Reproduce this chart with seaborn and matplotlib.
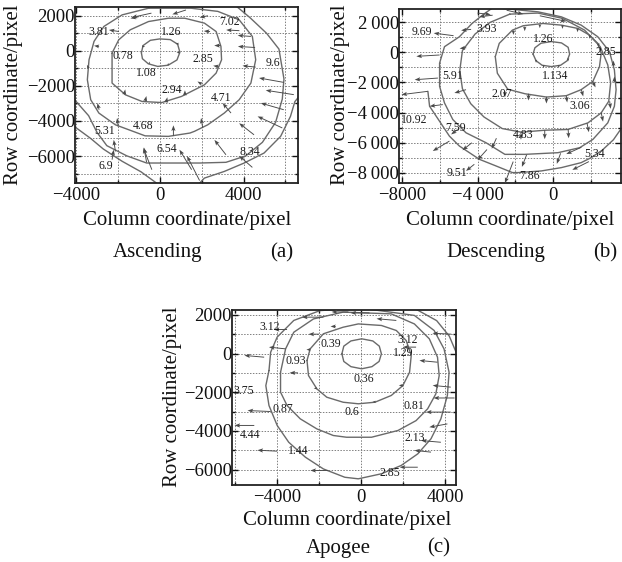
import matplotlib
matplotlib.use("Agg")
import matplotlib.pyplot as plt
import pandas as pd
import seaborn as sns
from matplotlib.ticker import MultipleLocator

sns.set_theme(style="ticks")
plt.rcParams['font.family'] = ['Liberation Serif', 'DejaVu Serif']

# ---------------- (a) Ascending ----------------
asc_lines = [
    ([-880, -800, -450, 0, 500, 850, 960, 820, 400, -100, -550, -830, -880],
     [-110, 300, 600, 680, 640, 380, -80, -520, -820, -890, -740, -450, -110]),
    ([-2280, -1960, -1410, -540, 410, 1190, 2130, 2690, 2920, 2950, 2690, 2130, 1500, 1040, 100, -850, -1640, -2280, -2280],
     [-130, 630, 1200, 1670, 1860, 1860, 1580, 1100, 250, -510, -1270, -1940, -2320, -2600, -2950, -2890, -2510, -1840, -130]),
    ([-540, -1800, -2670, -3140, -3380, -3460, -3300, -2910, -2120, -700, 410, 1440, 1660, 2290, 3080, 3790, 4350, 4580, 4420, 3790, 2770, 1500, -540],
     [2430, 2050, 1390, 540, -510, -1650, -2790, -3550, -4220, -4850, -4880, -4690, -4590, -4220, -3550, -2790, -1840, -510, 820, 1770, 2250, 2430, 2430]),
    ([-4100, -3400, -3000, -2530, -1580, -630, 1900, 3160, 4110, 4900, 5530, 5850, 5930, 5690, 5100, 4300, 3600],
     [-2750, -3700, -4650, -5410, -5990, -6400, -6400, -6360, -5990, -5220, -4080, -2750, -1610, 100, 1000, 1900, 2600]),
    ([-4100, -3300, -2700, -1800, -900, -150],
     [-4300, -5000, -5600, -6300, -6900, -7550]),
    ([1900, 2130, 3080, 4030, 4980, 5770, 6240, 6450, 6650],
     [-7550, -7260, -6880, -6400, -5830, -4880, -3740, -2900, -2600]),
]
asc_qx = [-400, 1250, 2300, -1000, -1950, 3800, 4350, 4550, 4580, 5920, 6400, 5920, 5850, 4500, 4420,
          3160, 3400, 2050, 650, -630, -380, 1520, 1900, -2120, -1990, -2900, -2280, -2900, -3400,
          -1700, -700, 300, 1200, 2400, 2900, 2800, 2000, 900, 950, 400, -500, -850]
asc_qy = [2150, 2330, 2000, 1950, 1100, 1150, 820, 190, -930, -1800, -2500, -3360, -4400, -4790, -6650,
          -5930, -3550, -4400, -4850, -6360, -6780, -6780, -7400, -5740, -4310, -3360, -6210, 250, -1000,
          -2500, -2880, -2950, -2550, 1100, 300, -900, -1900, 400, -100, -820, -740, 250]
asc_qu = [-950, -650, -400, -400, -480, -630, -630, -820, -630, -1180, -1340, -1100, -1180, -710, -630,
          -550, -400, -80, 0, -130, -400, -580, -600, -80, -50, -80, 80, -240, -80,
          50, 60, 60, 0, -300, -300, -250, -200, -150, -150, 0, 0, 150]
asc_qv = [-250, -250, -100, -100, 90, 40, 60, 60, 80, 250, 250, 380, 660, 660, 660,
          850, 570, 570, 600, 850, 1230, 1140, 1400, 660, 480, 380, 570, 40, 200,
          300, 300, 300, 300, 30, 0, 50, 150, 0, 0, 130, 130, 0]
asc_lab = ['3.81', '1.26', '7.02', '0.78', '2.85', '9.6', '1.08', '2.94', '4.71', '4.68', '5.31', '6.54', '8.34', '6.9']
asc_lab_x = [-2920, 550, 3320, -1740, 2050, 5400, -630, 550, 2920, -790, -2650, 320, 4300, -2560]
asc_lab_y = [1100, 1050, 1650, -320, -470, -720, -1270, -2220, -2700, -4270, -4560, -5600, -5790, -6550]

# ---------------- (b) Descending ----------------
desc_lines = [
    ([-1060, -960, -640, -90, 450, 800, 880, 750, 400, -90, -580, -900, -1060],
     [-120, 300, 600, 710, 620, 330, -120, -560, -860, -950, -860, -560, -120]),
    ([-3060, -2850, -2150, -1580, -530, 440, 1320, 1930, 2370, 2550, 2460, 2110, 1490, 700, -350, -1490, -2400, -2950, -3060],
     [-290, 590, 1470, 1760, 1910, 1800, 1580, 1140, 590, -70, -950, -1930, -2480, -2880, -2970, -2750, -2450, -1390, -290]),
    ([-2290, -3340, -4130, -4800, -4940, -4800, -4360, -3660, -2690, -1670, -440, 790, 1850, 2550, 2950, 3050, 2900, 2500, 1670, 500, -800, -2290],
     [2530, 1980, 1210, 110, -1210, -2420, -3410, -4290, -5060, -5300, -5170, -5120, -4680, -4020, -3250, -2040, -840, 370, 1470, 2250, 2600, 2530]),
    ([-3000, -790, 440, 1490, 2370, 2990, 3250, 3340, 3250, 2900, 2110, 1410, 260, -1490, -2550, -3550, -4610, -5310, -5750, -6010, -6010, -5750, -4960, -4300, -3700, -3200],
     [2950, 2680, 2350, 1800, 1030, 40, -1170, -2480, -3580, -4680, -5780, -6330, -6660, -6770, -6770, -6000, -5340, -4460, -3360, -2260, -720, 370, 1030, 1900, 2500, 2950]),
    ([-6630, -6540, -6190, -5490, -4960, -3900, -3020, -2150, -1850, -620, 440, 1490, 2020, 2600, 3200, 3700],
     [-2590, -3580, -4240, -5560, -6220, -7100, -7540, -7980, -7980, -7870, -7650, -7320, -6990, -6500, -5800, -4900]),
]
desc_qx = [-6010, -6100, -6630, -5840, -5490, -5050, -4170, -4340, -4610, -3200, -5270,
           -2110, -1400, 400, 1900, 1500, -3500, -3000, -4300,
           -1300, -350, 700, 1500, 2100, -2550, -440, 800, 1800, -1700, 2550, 3000, 3250, 3200,
           -900, -500, 300, 800, -2100, -1500, -700, 500, 1300, 1950, 2400, -4600,
           -700, -2460, -4000]
desc_qy = [-180, -1710, -2590, -3470, -5890, -5120, -7430, 1520, -2480, 2460, 1100,
           -7250, -6800, -6700, -7250, -6300, -6450, -5700, -6000,
           -2750, -2950, -2880, -2480, -1930, -2590, -5165, -5100, -4700, -5300, -4000, -3250, -2000, -900,
           -500, -850, -850, -400, 1450, 1700, 1850, 1800, 1580, 1140, 590, 300,
           2420, 2790, 2600]
desc_qu = [-1230, -1230, -1400, -700, -880, -350, -440, -530, -615, -700, -1050,
           -440, -250, -200, -880, -800, -500, -250, -500,
           0, 0, 50, 100, 150, 0, 0, 30, 100, 0, 100, 50, 0, 0,
           0, 0, 0, 0, 0, 0, 0, 0, 0, 0, 0, -350,
           1400, 880, 700]
desc_qv = [-90, -110, -220, -110, -660, -330, -440, -70, -220, -110, 170,
           -1430, -800, -700, -550, -450, -700, -700, -500,
           -450, -450, -450, -450, -400, -400, -600, -600, -600, -500, -600, -500, 400, 350,
           -200, -200, -200, -200, -300, -300, -250, -250, -250, -250, -250, -50,
           -370, -260, -100]
desc_lab = ['9.69', '3.93', '1.26', '2.85', '5.91', '1.134', '2.07', '3.06', '10.92', '7.59', '4.83', '5.34', '9.51', '7.86']
desc_lab_x = [-6940, -3520, -530, 2810, -5310, 90, -2730, 1410, -7380, -5190, -1580, 2200, -5100, -1230]
desc_lab_y = [1320, 1540, 880, 0, -1600, -1600, -2750, -3580, -4460, -4990, -5500, -6750, -7980, -8200]

# ---------------- (c) Apogee ----------------
apo_lines = [
    ([-910, -820, -480, 30, 560, 870, 970, 860, 520, 30, -480, -820, -910],
     [-17, 380, 650, 760, 650, 380, -17, -410, -680, -790, -680, -410, -17]),
    ([-2570, -2420, -1790, -850, -130, 970, 1680, 2150, 2390, 2310, 1990, 1440, 660, -130, -850, -1630, -2100, -2500, -2570],
     [-360, 240, 1020, 1360, 1530, 1450, 1190, 670, -100, -970, -1660, -2170, -2520, -2600, -2520, -2260, -1830, -1140, -360]),
    ([-3830, -3590, -3200, -2260, -850, 1440, 2540, 3250, 3640, 3720, 3560, 3170, 2620, 1760, 500, -690, -1320, -2100, -2890, -3520, -3830, -3830],
     [-970, 240, 1100, 1790, 2140, 2050, 1530, 760, -190, -1140, -2090, -2860, -3470, -3980, -4330, -4330, -4240, -3900, -3380, -2690, -2000, -970]),
    ([-4380, -4300, -3990, -3200, -1950, 0, 2540, 3480, 3950, 4190, 4110, 3800, 3330, 2700, 1910, 970, -130, -770, -1790, -2650, -3440, -3990, -4380, -4530, -4380],
     [-880, 70, 850, 1710, 2220, 2350, 1970, 1190, 240, -970, -2170, -3380, -4410, -5190, -5790, -6220, -6480, -6400, -5970, -5360, -4590, -3720, -2690, -1660, -880]),
    ([2600, 3600, 4200, 4550],
     [2300, 1700, 900, 0]),
]
apo_qx = [2620, 3640, 4270, 4270, 4110, 3800, 3330, 2700, 1680, 400, -600,
          -4610, -3520, -3590, -1790, -4300, -5080, -3990, -1550, -3000, -2000,
          -1200, -2400, -2100, 700, 2000, 4300, 4450]
apo_qy = [330, -450, -1740, -3030, -3640, -4590, -5100, -5880, 1710, 2100, 2150,
          -190, 1240, 240, 1880, -3000, -3720, -5050, -6050, -1000, 1000,
          1400, 200, -1800, -2500, -1650, 1000, -2300]
apo_qu = [-630, -860, -860, -1180, -860, -940, -790, -860, -940, -900, -800,
          -940, -630, -790, -1020, -1100, -940, -940, -860, -400, -500,
          -250, -200, -150, -150, -200, -900, -1000]
apo_qv = [0, 90, 90, 0, -170, 90, 90, 0, 90, 0, 0,
          90, 0, 90, 0, 50, 0, 50, 0, 0, 0,
          0, 0, 0, 0, 0, 50, 0]
apo_lab = ['3.12', '0.39', '3.12', '0.93', '1.29', '0.36', '3.75', '0.87', '0.6', '0.81', '4.44', '2.13', '1.44', '2.85']
apo_lab_x = [-4350, -1440, 2240, -3090, 2010, 130, -5600, -3720, -420, 2530, -5290, 2560, -3010, 1380]
apo_lab_y = [1380, 470, 720, -400, 30, -1310, -1950, -2850, -3030, -2690, -4190, -4360, -5050, -6170]


def draw_panel(ax, lines, qx, qy, qu, qv, labs, lx, ly, xlim, ylim, xt, xtl, yt, ytl):
    rows = []
    for i, (xs, ys) in enumerate(lines):
        for x, y in zip(xs, ys):
            rows.append((i, x, y))
    df = pd.DataFrame(rows, columns=['line', 'x', 'y'])
    sns.lineplot(data=df, x='x', y='y', units='line', estimator=None, sort=False,
                 color='#6a6a6a', lw=1.0, ax=ax, legend=False)
    ax.quiver(qx, qy, qu, qv, angles='xy', scale_units='xy', scale=1, color='#4a4a4a',
              width=0.0042, headwidth=4.5, headlength=6, headaxislength=5, zorder=3)
    for t, x, y in zip(labs, lx, ly):
        ax.text(x, y, t, fontsize=8.5, ha='center', va='center', color='#1a1a1a', zorder=4)
    ax.set_xlim(*xlim)
    ax.set_ylim(*ylim)
    ax.set_xticks(xt)
    ax.set_xticklabels(xtl)
    ax.set_yticks(yt)
    ax.set_yticklabels(ytl)
    ax.xaxis.set_minor_locator(MultipleLocator(2000))
    ax.yaxis.set_minor_locator(MultipleLocator(1000))
    ax.grid(which='both', ls=(0, (1.5, 1.5)), color='#808080', lw=0.7)
    ax.tick_params(which='both', direction='in', top=True, right=True, labelsize=13.5,
                   colors='#111111', width=1.0)
    ax.tick_params(which='major', length=4)
    ax.tick_params(which='minor', length=2)
    ax.tick_params(axis='x', pad=3)
    ax.tick_params(axis='y', pad=0)
    ax.set_xlabel('')
    ax.set_ylabel('')
    for s in ax.spines.values():
        s.set_color('#222222')
        s.set_linewidth(1.3)


fig = plt.figure(figsize=(6.22, 5.62), dpi=100)
W, H = 622, 562


def fx(p):
    return p / W


def fy(p):
    return 1 - p / H


ax_a = fig.add_axes([fx(75), fy(183), 223 / W, 176 / H])
ax_b = fig.add_axes([fx(399), fy(183), 222 / W, 174 / H])
ax_c = fig.add_axes([fx(232), fy(485), 224 / W, 175 / H])

draw_panel(ax_a, asc_lines, asc_qx, asc_qy, asc_qu, asc_qv, asc_lab, asc_lab_x, asc_lab_y,
           (-4050, 6600), (-7540, 2500), [-4000, 0, 4000], ['\u22124000', '0', '4000'],
           [2000, 0, -2000, -4000, -6000], ['2000', '0', '\u22122000', '\u22124000', '\u22126000'])
draw_panel(ax_b, desc_lines, desc_qx, desc_qy, desc_qu, desc_qv, desc_lab, desc_lab_x, desc_lab_y,
           (-8160, 3600), (-8670, 2870), [-8000, -4000, 0], ['\u22128000', '\u22124\u2009000', '0'],
           [2000, 0, -2000, -4000, -6000, -8000],
           ['2\u2009000', '0', '\u22122\u2009000', '\u22124\u2009000', '\u22126\u2009000', '\u22128\u2009000'])
draw_panel(ax_c, apo_lines, apo_qx, apo_qy, apo_qu, apo_qv, apo_lab, apo_lab_x, apo_lab_y,
           (-6140, 4520), (-6800, 2250), [-4000, 0, 4000], ['\u22124000', '0', '4000'],
           [2000, 0, -2000, -4000, -6000], ['2000', '0', '\u22122000', '\u22124000', '\u22126000'])

lab_kw = dict(fontsize=15, ha='center', va='center', color='#111111')
fig.text(fx(14), fy(95), 'Row coordinate/pixel', rotation=90, **lab_kw)
fig.text(fx(187), fy(220), 'Column coordinate/pixel', **lab_kw)
fig.text(fx(158), fy(253), 'Ascending', **lab_kw)
fig.text(fx(282), fy(253), '(a)', **lab_kw)

fig.text(fx(340), fy(95), 'Row coordinate/pixel', rotation=90, **lab_kw)
fig.text(fx(510), fy(220), 'Column coordinate/pixel', **lab_kw)
fig.text(fx(496), fy(253), 'Descending', **lab_kw)
fig.text(fx(605), fy(253), '(b)', **lab_kw)

fig.text(fx(172), fy(397), 'Row coordinate/pixel', rotation=90, **lab_kw)
fig.text(fx(347), fy(521), 'Column coordinate/pixel', **lab_kw)
fig.text(fx(338), fy(548), 'Apogee', **lab_kw)
fig.text(fx(439), fy(548), '(c)', **lab_kw)

fig.savefig('out.png', dpi=100, facecolor='white')
